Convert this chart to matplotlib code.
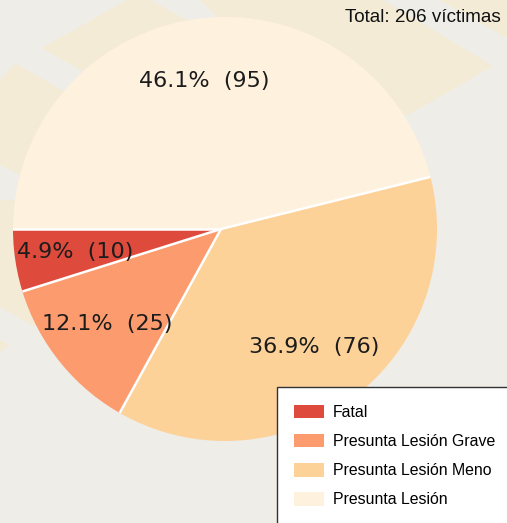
import numpy as np
import matplotlib
matplotlib.use("Agg")
import matplotlib.pyplot as plt
from matplotlib.patches import Polygon, Rectangle, Patch, Circle
from matplotlib.transforms import Affine2D

W, H = 507, 523
categories = ["Fatal", "Presunta Lesión Grave", "Presunta Lesión Meno", "Presunta Lesión"]
victims = [10, 25, 76, 95]
colors = ["#DE4A3C", "#FC9B6E", "#FDD299", "#FEF1DE"]
total_label = "Total: 206 víctimas"

BG = "#EFEDE8"
MAP = "#F3EBD6"
map_shapes = [
    [(42, 48), (127, 0), (150, 0), (260, 60), (150, 110)],
    [(200, 0), (383, 0), (493, 66), (408, 115), (300, 100)],
    [(440, 0), (507, 0), (507, 38)],
    [(0, 80), (15, 63), (65, 92), (60, 140), (20, 175), (0, 165)],
    [(0, 200), (40, 200), (60, 300), (35, 327), (0, 307)],
    [(0, 340), (10, 345), (0, 352)],
]

px = Affine2D().scale(1, -1).translate(0, H)  # top-left pixel coordinates
fig = plt.figure(figsize=(W / 100, H / 100), dpi=100, facecolor=BG)

bg = fig.add_axes([0, 0, 1, 1], zorder=0)
bg.set_xlim(0, W); bg.set_ylim(H, 0); bg.axis("off")
for s in map_shapes:
    bg.add_patch(Polygon(s, closed=True, fc=MAP, ec="none"))

cx, cy, r = 225, 229, 212
ax = fig.add_axes([(cx - r) / W, 1 - (cy + r) / H, 2 * r / W, 2 * r / H], zorder=1)
total = sum(victims)


def fmt(p):
    return f"{p:.1f}%  ({round(p * total / 100)})"


apex_x = -0.019   # the wedges meet slightly left of the middle of the disc
big = 1.05
wedges, _, autotexts = ax.pie(
    victims, colors=colors, startangle=180, autopct=fmt, pctdistance=0.705 / big,
    radius=big, center=(apex_x, 0),
    wedgeprops=dict(edgecolor="none", linewidth=0),
    textprops=dict(fontsize=16, color="#1c1c1c", family="DejaVu Sans"))
ax.set_xlim(-1, 1); ax.set_ylim(-1, 1)
for t in autotexts:
    x, y = t.get_position()
    t.set_position((x + 0.009, y))
disc = Circle((0, 0), 1, transform=ax.transData)
for w in wedges:
    w.set_clip_on(True)
    w.set_clip_path(disc)
    t = np.deg2rad(w.theta1)
    line, = ax.plot([apex_x, apex_x + big * np.cos(t)], [0, big * np.sin(t)], color="white",
                    lw=1.8, solid_capstyle="butt", zorder=w.get_zorder() + 0.5)
    line.set_clip_path(disc)

fig.text(501 / W, 1 - 17.5 / H, total_label, ha="right", va="center",
         fontsize=13.6, family="Liberation Sans", color="#111111")

fig.add_artist(Rectangle((277, 386.5), 260, 160, transform=px, fc="white",
                         ec="#333333", lw=1.0, zorder=4))
handles = [Patch(fc=c, ec="none") for c in colors]
leg = fig.legend(handles, categories, loc="upper left", frameon=False,
                 bbox_to_anchor=(294 / W, 1 - 404.5 / H), borderaxespad=0, borderpad=0,
                 handlelength=1.9, handleheight=0.95, handletextpad=0.57,
                 labelspacing=0.88,
                 prop=dict(family="Liberation Sans", size=11.4))
leg.set_zorder(5)

fig.savefig("out.png", dpi=100, facecolor=BG)
